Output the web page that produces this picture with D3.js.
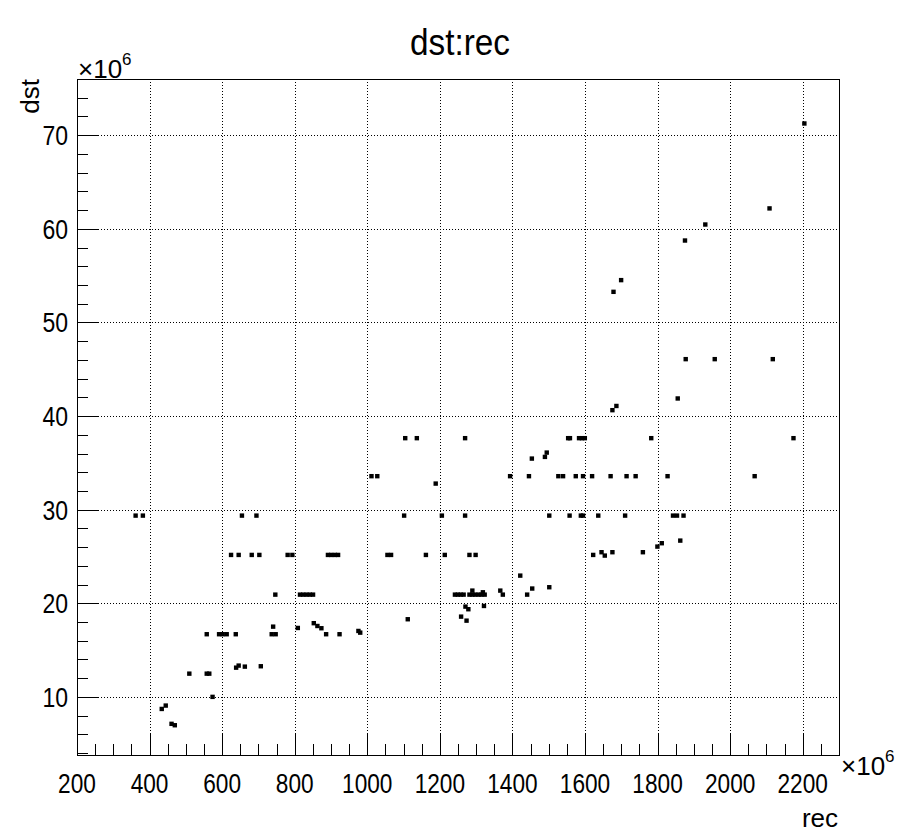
<!DOCTYPE html>
<html><head><meta charset="utf-8">
<script src="https://cdn.jsdelivr.net/npm/d3@7"></script>
<style>body{margin:0;background:#fff} text{font-family:"Liberation Sans",Arial,Helvetica,sans-serif;fill:#000}</style>
</head><body><svg id="c" width="902" height="833"></svg>
<script>
// values in units of 10^6
const recValues = [
  361,381,654,694,1101,1205,1269,1501,1557,1588,1594,1636,1710,1842,1853,1871,
  624,645,681,702,780,793,891,900,910,919,1055,1065,1161,1213,1281,1298,1622,1645,1654,1675,1759,1799,1811,1862,
  1011,1027,1393,1445,1526,1539,1574,1594,1619,1670,1714,1739,1827,2067,
  1104,1136,1269,1553,1558,1583,1591,1599,1782,2174,
  746,814,823,832,841,850,1241,1249,1257,1265,1281,1289,1297,1306,1314,1323,1289,1318,1366,1373,1440,1454,1501,1421,
  557,591,601,612,637,736,747,740,808,852,862,873,886,923,975,980,
  1111,1258,1273,1270,1278,1321,
  638,645,662,706,
  509,557,564,573,433,444,460,469,
  1188,1453,1489,1494,1675,1686,1855,1877,1957,2117,1678,1699,1875,1931,2108,2204
];
const dstValues = [
  29.39,29.39,29.39,29.39,29.39,29.39,29.39,29.39,29.39,29.39,29.39,29.39,29.39,29.39,29.39,29.39,
  25.19,25.19,25.19,25.19,25.19,25.19,25.19,25.19,25.19,25.19,25.19,25.19,25.19,25.19,25.19,25.19,25.19,25.48,25.12,25.48,25.48,26.08,26.44,26.72,
  33.6,33.6,33.6,33.6,33.6,33.6,33.6,33.6,33.6,33.6,33.6,33.6,33.6,33.6,
  37.66,37.66,37.66,37.66,37.66,37.66,37.66,37.66,37.66,37.66,
  20.95,20.95,20.95,20.95,20.95,20.95,20.95,20.95,20.95,20.95,20.95,20.95,20.95,20.95,20.95,20.95,21.38,21.2,21.38,20.95,20.95,21.6,21.74,22.98,
  16.72,16.72,16.72,16.72,16.72,16.72,16.72,17.53,17.39,17.9,17.6,17.36,16.72,16.72,17.07,16.89,
  18.32,18.6,18.17,19.67,19.39,19.74,
  13.15,13.37,13.26,13.3,
  12.51,12.51,12.51,10.03,8.74,9.1,7.15,7.0,
  32.81,35.48,35.66,36.12,40.65,41.1,41.9,46.1,46.1,46.1,53.29,54.54,58.77,60.48,62.2,71.27
];
const xTickValues = [200,400,600,800,1000,1200,1400,1600,1800,2000,2200];
const yTickValues = [10,20,30,40,50,60,70];
const xDomain = [200, 2300];
const yDomain = [3.8, 76];
const titleText = "dst:rec";
const xTitle = "rec", yTitle = "dst";

const svg = d3.select("#c");
svg.append("rect").attr("width",902).attr("height",833).attr("fill","#fff");
const L=77, R=839, T=79, B=755;
const x = d3.scaleLinear().domain(xDomain).range([L,R]);
const y = d3.scaleLinear().domain(yDomain).range([B,T]);
const cr = v => Math.round(v)+0.5;

// grid
const g = svg.append("g").attr("stroke","#000").attr("stroke-width",1).attr("stroke-dasharray","1,2");
xTickValues.filter(v=>v>xDomain[0]).forEach(v=>g.append("line").attr("x1",cr(x(v))).attr("x2",cr(x(v))).attr("y1",T).attr("y2",B));
yTickValues.forEach(v=>g.append("line").attr("y1",cr(y(v))).attr("y2",cr(y(v))).attr("x1",L).attr("x2",R));

// ticks
const tk = svg.append("g").attr("stroke","#000").attr("stroke-width",1);
const xMinor = d3.range(xDomain[0], xDomain[1]+1, 50);
xMinor.forEach(v=>{
  const major = xTickValues.includes(v);
  tk.append("line").attr("x1",cr(x(v))).attr("x2",cr(x(v))).attr("y1",B).attr("y2",B-(major?22:11));
});
const yMinor = d3.range(4, 76, 2);
yMinor.forEach(v=>{
  const major = yTickValues.includes(v);
  tk.append("line").attr("y1",cr(y(v))).attr("y2",cr(y(v))).attr("x1",L).attr("x2",L+(major?22:11));
});

// frame
svg.append("rect").attr("x",L+0.5).attr("y",T+0.5).attr("width",R-L).attr("height",B-T)
  .attr("fill","none").attr("stroke","#000").attr("stroke-width",1);

// points
svg.append("g").selectAll("rect").data(recValues.map((r,i)=>[r,dstValues[i]])).join("rect")
  .attr("x",d=>x(d[0])-2).attr("y",d=>y(d[1])-2).attr("width",4.4).attr("height",4.4).attr("fill","#000");

// tick labels
const fs = 27;
svg.append("g").selectAll("text").data(xTickValues).join("text")
  .attr("x",d=>x(d)).attr("y",793).attr("text-anchor","middle").attr("font-size",fs)
  .attr("textLength",d=>String(d).length*12.6).attr("lengthAdjust","spacingAndGlyphs").text(d=>d);
svg.append("g").selectAll("text").data(yTickValues).join("text")
  .attr("x",68).attr("y",d=>y(d)+10).attr("text-anchor","end").attr("font-size",fs)
  .attr("textLength",d=>String(d).length*12.8).attr("lengthAdjust","spacingAndGlyphs").text(d=>d);

// exponent labels
function expo(xp, yb){
  const t = svg.append("text").attr("x",xp).attr("y",yb).attr("font-size",26);
  t.append("tspan").text("\u00d710");
  t.append("tspan").attr("dy",-13).attr("font-size",17).text("6");
}
expo(78, 78);
expo(841, 775);

// titles
svg.append("text").attr("x",460).attr("y",55).attr("text-anchor","middle").attr("font-size",37)
  .attr("textLength",100).attr("lengthAdjust","spacingAndGlyphs").text(titleText);
svg.append("text").attr("x",838).attr("y",827).attr("text-anchor","end").attr("font-size",26).text(xTitle);
svg.append("text").attr("transform","translate(39,79) rotate(-90)").attr("text-anchor","end").attr("font-size",26).text(yTitle);
</script></body></html>
